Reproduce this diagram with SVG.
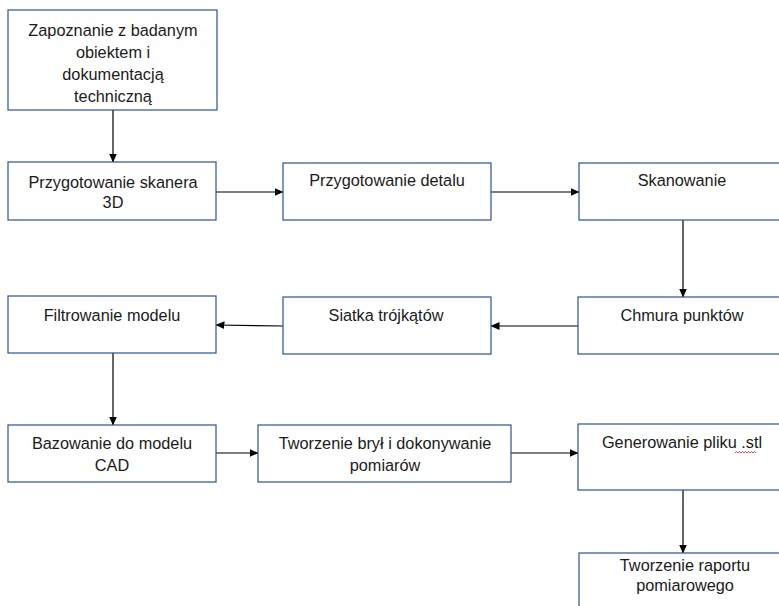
<svg xmlns="http://www.w3.org/2000/svg" width="779" height="606" viewBox="0 0 779 606">
  <style>
    .box { fill: #ffffff; stroke: #2f528f; stroke-width: 1.2; }
    .lbl { font-family: "Liberation Sans", Arial, sans-serif; font-size: 16.3px; fill: #1a1a1a; text-anchor: middle; }
    .conn { stroke: #000000; stroke-width: 1.2; fill: none; marker-end: url(#arrow); }
  </style>
  <defs>
    <marker id="arrow" markerWidth="9" markerHeight="8" refX="8.5" refY="4" orient="auto" markerUnits="userSpaceOnUse">
      <path d="M0,0 L9,4 L0,8 Z" fill="#000000"/>
    </marker>
  </defs>
  <rect width="779" height="606" fill="#ffffff"/>

  <g id="connectors">
    <line class="conn" x1="113" y1="110" x2="113" y2="162"/>
    <line class="conn" x1="216" y1="192" x2="283" y2="192"/>
    <line class="conn" x1="491" y1="192" x2="579" y2="192"/>
    <line class="conn" x1="683" y1="220" x2="683" y2="297"/>
    <line class="conn" x1="578" y1="326" x2="491" y2="326"/>
    <line class="conn" x1="283" y1="326" x2="216" y2="325"/>
    <line class="conn" x1="113" y1="353" x2="113" y2="425"/>
    <line class="conn" x1="216" y1="453" x2="258" y2="453"/>
    <line class="conn" x1="511" y1="453" x2="578" y2="453"/>
    <line class="conn" x1="683" y1="490" x2="683" y2="553"/>
  </g>

  <g id="n-zapoznanie">
    <rect class="box" x="8" y="10" width="209" height="100"/>
    <text class="lbl" x="113" y="36">Zapoznanie z badanym</text>
    <text class="lbl" x="113" y="58">obiektem i</text>
    <text class="lbl" x="113" y="80">dokumentacją</text>
    <text class="lbl" x="113" y="102">techniczną</text>
  </g>

  <g id="n-skaner">
    <rect class="box" x="8" y="162" width="208" height="58"/>
    <text class="lbl" x="113" y="188">Przygotowanie skanera</text>
    <text class="lbl" x="113" y="208">3D</text>
  </g>

  <g id="n-detal">
    <rect class="box" x="283" y="163" width="208" height="57"/>
    <text class="lbl" x="387" y="186">Przygotowanie detalu</text>
  </g>

  <g id="n-skanowanie">
    <rect class="box" x="579" y="163" width="215" height="57"/>
    <text class="lbl" x="682" y="186">Skanowanie</text>
  </g>

  <g id="n-chmura">
    <rect class="box" x="578" y="297" width="215" height="57"/>
    <text class="lbl" x="682" y="321">Chmura punktów</text>
  </g>

  <g id="n-siatka">
    <rect class="box" x="283" y="297" width="208" height="57"/>
    <text class="lbl" x="386" y="321">Siatka trójkątów</text>
  </g>

  <g id="n-filtrowanie">
    <rect class="box" x="8" y="296" width="208" height="57"/>
    <text class="lbl" x="112" y="321">Filtrowanie modelu</text>
  </g>

  <g id="n-bazowanie">
    <rect class="box" x="8" y="425" width="208" height="57"/>
    <text class="lbl" x="112" y="449">Bazowanie do modelu</text>
    <text class="lbl" x="112" y="471">CAD</text>
  </g>

  <g id="n-bryly">
    <rect class="box" x="258" y="425" width="253" height="57"/>
    <text class="lbl" x="385" y="449">Tworzenie brył i dokonywanie</text>
    <text class="lbl" x="385" y="471">pomiarów</text>
  </g>

  <g id="n-stl">
    <rect class="box" x="578" y="424" width="215" height="66"/>
    <text class="lbl" x="682" y="448">Generowanie pliku .stl</text>
    <!-- spell-check wave under "stl" -->
    <path d="M735,453 l1.5,-1.5 l1.5,1.5 l1.5,-1.5 l1.5,1.5 l1.5,-1.5 l1.5,1.5 l1.5,-1.5 l1.5,1.5 l1.5,-1.5 l1.5,1.5 l1.5,-1.5 l1.5,1.5 l1.5,-1.5 l1.5,1.5" fill="none" stroke="#e03030" stroke-width="0.9"/>
  </g>

  <g id="n-raport">
    <rect class="box" x="579" y="553" width="215" height="70"/>
    <text class="lbl" x="685" y="571">Tworzenie raportu</text>
    <text class="lbl" x="685" y="591">pomiarowego</text>
  </g>
</svg>
